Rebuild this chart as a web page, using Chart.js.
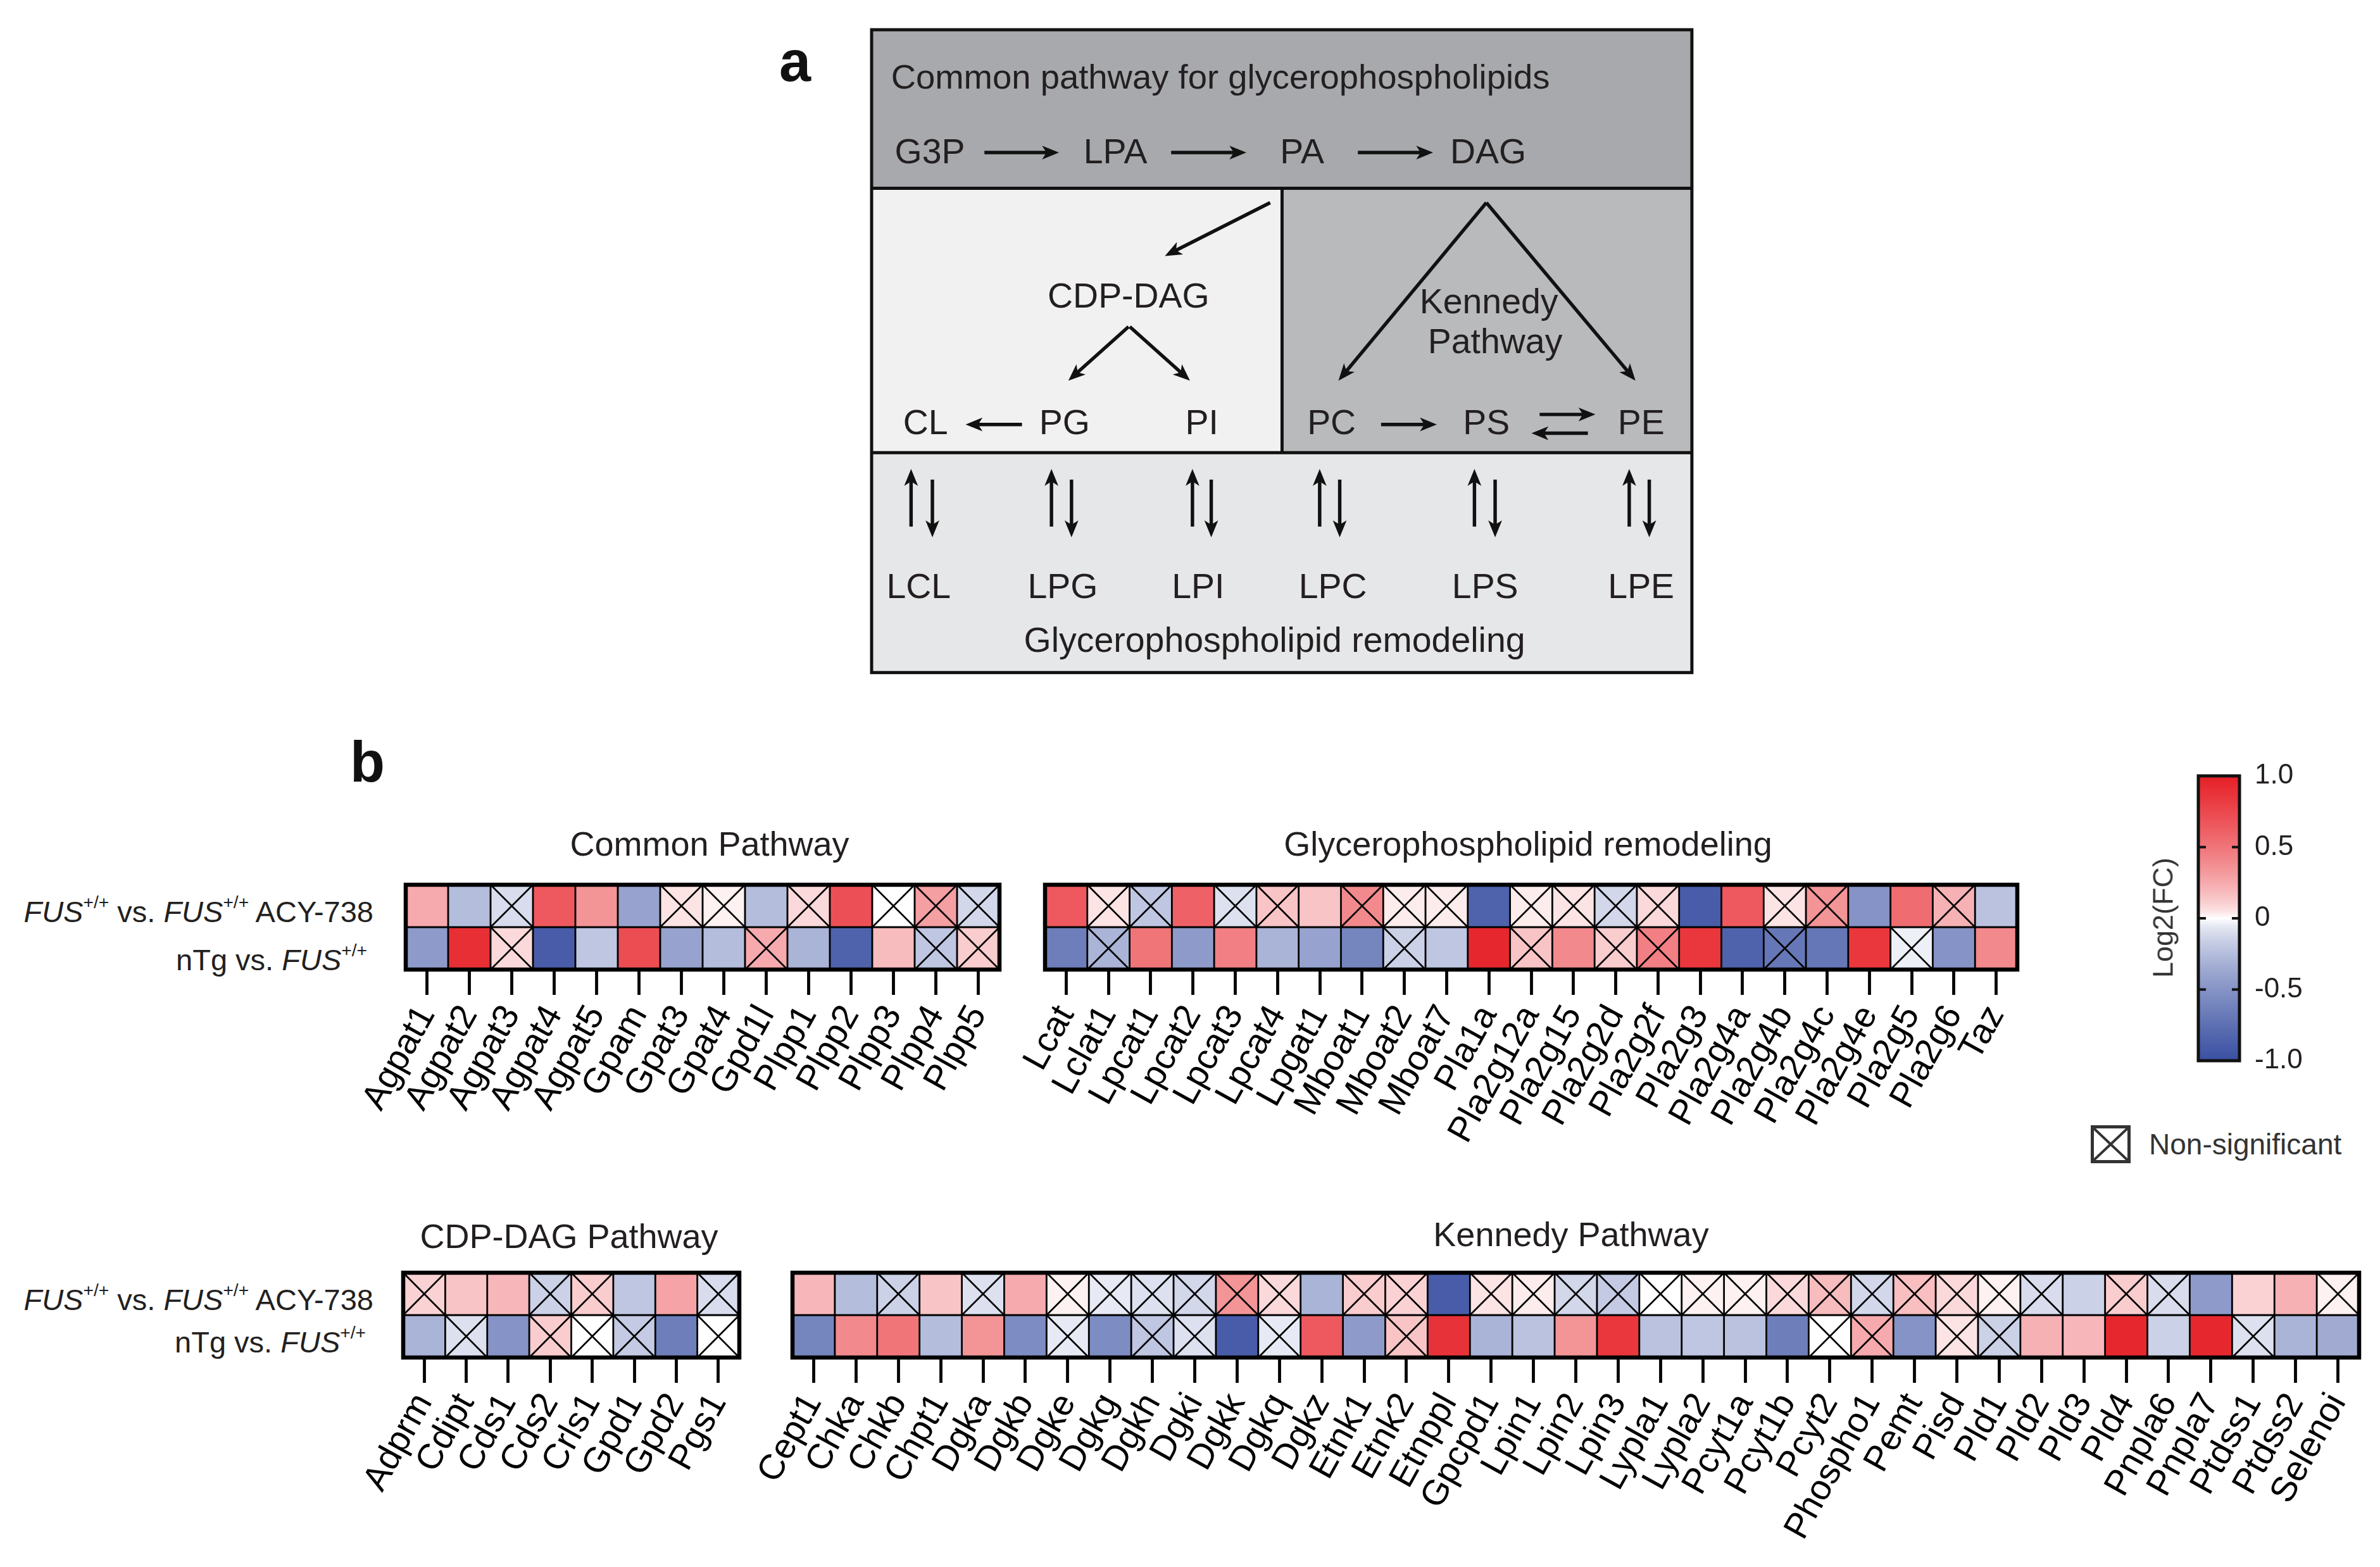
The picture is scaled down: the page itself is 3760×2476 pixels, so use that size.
<!DOCTYPE html>
<html lang="en">
<head>
<meta charset="UTF-8">
<title>Glycerophospholipid pathways</title>
<script src="https://cdn.jsdelivr.net/npm/chart.js"></script>
<style>
    body {
        margin: 0;
        width: 3760px;
        height: 2476px;
        background: #fff;
        font-family: "Liberation Sans", Arial, sans-serif;
        color: #231f20;
        position: relative;
        overflow: hidden;
    }
    canvas { position: absolute; }
    #diagram { position: absolute; left: 0; top: 0; }
    .title {
        position: absolute;
        font-size: 54px;
        line-height: 1;
        white-space: nowrap;
        transform: translate(-50%, -50%);
    }
    .rowlab {
        position: absolute;
        font-size: 47px;
        line-height: 1;
        white-space: nowrap;
        transform: translate(-100%, -50%);
    }
    .rowlab sup { font-size: 0.6em; vertical-align: 0.75em; line-height: 0; }
    .panel {
        position: absolute;
        font-size: 90px;
        line-height: 90px;
        font-weight: bold;
        color: #111;
    }
    .legend-box {
        position: absolute;
        left: 3303px; top: 1778px;
        width: 63px; height: 60px;
        box-sizing: border-box;
        border: 5px solid #333;
    }
    .legend-text {
        position: absolute;
        left: 3395px; top: 1808px;
        font-size: 46px; line-height: 1;
        transform: translateY(-50%);
        color: #333;
    }
    .cb-title {
        position: absolute;
        left: 3417px; top: 1450px;
        font-size: 45px; line-height: 1;
        white-space: nowrap;
        color: #333;
        transform: translate(-50%, -50%) rotate(-90deg);
    }
</style>
</head>
<body>
    <svg id="diagram" width="3760" height="1100"><g id="schema" transform="translate(1377,47) scale(0.99) translate(-1377,-47)"></g></svg>

    <div class="panel" style="left:1231px; top:52px;">a</div>
    <div class="panel" style="left:553px; top:1159px;">b</div>

    <div class="title" style="left:1121px; top:1333px;">Common Pathway</div>
    <div class="title" style="left:2414px; top:1333px;">Glycerophospholipid remodeling</div>
    <div class="title" style="left:899px; top:1953px;">CDP-DAG Pathway</div>
    <div class="title" style="left:2482px; top:1950px;">Kennedy Pathway</div>

    <div class="rowlab" style="left:590px; top:1440px;"><i>FUS</i><sup>+/+</sup> vs. <i>FUS</i><sup>+/+</sup> ACY-738</div>
    <div class="rowlab" style="left:580px; top:1516px;">nTg vs. <i>FUS</i><sup>+/+</sup></div>
    <div class="rowlab" style="left:590px; top:2053px;"><i>FUS</i><sup>+/+</sup> vs. <i>FUS</i><sup>+/+</sup> ACY-738</div>
    <div class="rowlab" style="left:578px; top:2120px;">nTg vs. <i>FUS</i><sup>+/+</sup></div>

    <canvas id="common"></canvas>
    <canvas id="remodel"></canvas>
    <canvas id="cdp"></canvas>
    <canvas id="kennedy"></canvas>
    <canvas id="colorbar"></canvas>

    <div class="cb-title">Log2(FC)</div>
    <div class="legend-box">
        <svg width="53" height="50" style="display:block">
            <line x1="0" y1="0" x2="53" y2="50" stroke="#333" stroke-width="4"/>
            <line x1="53" y1="0" x2="0" y2="50" stroke="#333" stroke-width="4"/>
        </svg>
    </div>
    <div class="legend-text">Non-significant</div>

<script>
    // Heatmap data: log2 fold change per gene, and non-significant flags (1 = crossed cell)
    const commonGenes = ['Agpat1', 'Agpat2', 'Agpat3', 'Agpat4', 'Agpat5', 'Gpam', 'Gpat3', 'Gpat4', 'Gpd1l', 'Plpp1', 'Plpp2', 'Plpp3', 'Plpp4', 'Plpp5'];
    const commonAcy = [0.25, -0.25, -0.1, 0.65, 0.35, -0.4, 0.05, 0.02, -0.25, 0.08, 0.7, 0.0, 0.3, -0.12];
    const commonAcyNs = [0, 0, 1, 0, 0, 0, 1, 1, 0, 1, 0, 1, 1, 1];
    const commonNtg = [-0.45, 0.9, 0.08, -0.9, -0.2, 0.72, -0.4, -0.25, 0.25, -0.3, -0.85, 0.18, -0.2, 0.12];
    const commonNtgNs = [0, 0, 1, 0, 0, 0, 0, 0, 1, 0, 0, 0, 1, 1];

    const remodelGenes = ['Lcat', 'Lclat1', 'Lpcat1', 'Lpcat2', 'Lpcat3', 'Lpcat4', 'Lpgat1', 'Mboat1', 'Mboat2', 'Mboat7', 'Pla1a', 'Pla2g12a', 'Pla2g15', 'Pla2g2d', 'Pla2g2f', 'Pla2g3', 'Pla2g4a', 'Pla2g4b', 'Pla2g4c', 'Pla2g4e', 'Pla2g5', 'Pla2g6', 'Taz'];
    const remodelAcy = [0.65, 0.05, -0.2, 0.6, -0.08, 0.15, 0.15, 0.4, 0.03, 0.03, -0.85, 0.03, 0.05, -0.12, 0.08, -0.9, 0.65, 0.05, 0.35, -0.5, 0.55, 0.22, -0.22];
    const remodelAcyNs = [0, 1, 1, 0, 1, 1, 0, 1, 1, 1, 0, 1, 1, 1, 1, 0, 0, 1, 1, 0, 0, 1, 0];
    const remodelNtg = [-0.65, -0.3, 0.5, -0.45, 0.45, -0.3, -0.4, -0.6, -0.15, -0.2, 0.95, 0.15, 0.4, 0.12, 0.45, 0.85, -0.85, -0.7, -0.7, 0.85, -0.03, -0.5, 0.4];
    const remodelNtgNs = [0, 1, 0, 0, 0, 0, 0, 0, 1, 0, 0, 1, 0, 1, 1, 0, 0, 1, 0, 0, 1, 0, 0];

    const cdpGenes = ['Adprm', 'Cdipt', 'Cds1', 'Cds2', 'Crls1', 'Gpd1', 'Gpd2', 'Pgs1'];
    const cdpAcy = [0.1, 0.15, 0.2, -0.15, 0.12, -0.2, 0.28, -0.1];
    const cdpAcyNs = [1, 0, 0, 1, 1, 0, 0, 1];
    const cdpNtg = [-0.3, -0.08, -0.5, 0.12, 0.0, -0.18, -0.65, 0.0];
    const cdpNtgNs = [0, 1, 0, 1, 1, 1, 0, 1];

    const kennedyGenes = ['Cept1', 'Chka', 'Chkb', 'Chpt1', 'Dgka', 'Dgkb', 'Dgke', 'Dgkg', 'Dgkh', 'Dgki', 'Dgkk', 'Dgkq', 'Dgkz', 'Etnk1', 'Etnk2', 'Etnppl', 'Gpcpd1', 'Lpin1', 'Lpin2', 'Lpin3', 'Lypla1', 'Lypla2', 'Pcyt1a', 'Pcyt1b', 'Pcyt2', 'Phospho1', 'Pemt', 'Pisd', 'Pld1', 'Pld2', 'Pld3', 'Pld4', 'Pnpla6', 'Pnpla7', 'Ptdss1', 'Ptdss2', 'Selenoi'];
    const kennedyAcy = [0.2, -0.25, -0.15, 0.15, -0.08, 0.25, 0.02, -0.05, -0.08, -0.12, 0.35, 0.08, -0.3, 0.12, 0.1, -0.9, 0.05, 0.03, -0.12, -0.18, 0.0, 0.02, 0.02, 0.08, 0.18, -0.12, 0.17, 0.08, 0.02, -0.1, -0.15, 0.12, -0.1, -0.45, 0.1, 0.22, 0.02];
    const kennedyAcyNs = [0, 0, 1, 0, 1, 0, 1, 1, 1, 1, 1, 1, 0, 1, 1, 0, 1, 1, 1, 1, 1, 1, 1, 1, 1, 1, 1, 1, 1, 1, 0, 1, 1, 0, 0, 0, 1];
    const kennedyNtg = [-0.6, 0.4, 0.5, -0.25, 0.35, -0.55, -0.05, -0.55, -0.2, -0.08, -0.9, -0.05, 0.65, -0.45, 0.15, 0.88, -0.3, -0.22, 0.35, 0.85, -0.22, -0.2, -0.22, -0.65, 0.0, 0.25, -0.5, 0.05, -0.15, 0.22, 0.2, 0.95, -0.15, 0.95, -0.08, -0.3, -0.35];
    const kennedyNtgNs = [0, 0, 0, 0, 0, 0, 1, 0, 1, 1, 0, 1, 0, 0, 1, 0, 0, 0, 0, 0, 0, 0, 0, 0, 1, 1, 0, 1, 1, 0, 0, 0, 0, 0, 1, 0, 0];

    const colorbarTicks = [-1, -0.5, 0, 0.5, 1];

    // Colour scale: blue (-1) -> white (0) -> red (+1)
    const RED = [230, 31, 38], BLUE = [58, 80, 162], WHITE = [255, 255, 255];
    function valueToColor(v) {
        const t = Math.pow(Math.min(1, Math.abs(v)), 0.7);
        const end = v >= 0 ? RED : BLUE;
        const c = WHITE.map((w, k) => Math.round(w + (end[k] - w) * t));
        return 'rgb(' + c.join(',') + ')';
    }

    Chart.defaults.font.family = '"Liberation Sans", Arial, sans-serif';
    Chart.defaults.color = '#000';

    // Crosses for non-significant cells and the heavy outer frame
    const cellMarks = {
        id: 'cellMarks',
        afterDatasetsDraw(chart) {
            const ctx = chart.ctx;
            ctx.save();
            ctx.strokeStyle = '#000';
            ctx.lineWidth = 2.6;
            chart.data.datasets.forEach((ds, di) => {
                chart.getDatasetMeta(di).data.forEach((bar, i) => {
                    if (!ds.ns[i]) return;
                    const x0 = bar.x - bar.width / 2, x1 = bar.x + bar.width / 2;
                    const y0 = Math.min(bar.y, bar.base), y1 = Math.max(bar.y, bar.base);
                    ctx.beginPath();
                    ctx.moveTo(x0, y0); ctx.lineTo(x1, y1);
                    ctx.moveTo(x1, y0); ctx.lineTo(x0, y1);
                    ctx.stroke();
                });
            });
            const a = chart.chartArea;
            ctx.lineWidth = 6.5;
            ctx.strokeRect(a.left, a.top, a.right - a.left, a.bottom - a.top);
            ctx.restore();
        }
    };

    function drawHeatmap(id, genes, acy, acyNs, ntg, ntgNs, left, top, cw) {
        const rh = 67, padL = 230, padR = 40, padT = 12, axisH = 330;
        const cv = document.getElementById(id);
        cv.width = padL + Math.round(genes.length * cw) + padR;
        cv.height = padT + 2 * rh + axisH;
        cv.style.left = (left - padL) + 'px';
        cv.style.top = (top - padT) + 'px';
        const cell = {
            borderColor: '#000', borderWidth: 1.75, borderSkipped: false,
            grouped: false, barPercentage: 1, categoryPercentage: 1
        };
        return new Chart(cv, {
            type: 'bar',
            data: {
                labels: genes,
                datasets: [
                    Object.assign({ label: 'FUS+/+ vs. FUS+/+ ACY-738', data: acy.map(() => [1, 2]), ns: acyNs, backgroundColor: acy.map(valueToColor) }, cell),
                    Object.assign({ label: 'nTg vs. FUS+/+', data: ntg.map(() => [0, 1]), ns: ntgNs, backgroundColor: ntg.map(valueToColor) }, cell)
                ]
            },
            options: {
                responsive: false,
                animation: false,
                layout: { autoPadding: false, padding: { left: padL, right: padR, top: padT, bottom: 0 } },
                plugins: { legend: { display: false }, tooltip: { enabled: false } },
                scales: {
                    x: {
                        afterFit: s => { s.height = axisH; },
                        ticks: { minRotation: 61, maxRotation: 61, autoSkip: false, padding: 6, font: { size: 56 }, color: '#000' },
                        grid: { offset: false, drawOnChartArea: false, drawTicks: true, tickLength: 40, tickWidth: 4.8, tickColor: '#000' },
                        border: { display: false }
                    },
                    y: { display: false, min: 0, max: 2 }
                }
            },
            plugins: [cellMarks]
        });
    }

    drawHeatmap('common', commonGenes, commonAcy, commonAcyNs, commonNtg, commonNtgNs, 641, 1398, 67);
    drawHeatmap('remodel', remodelGenes, remodelAcy, remodelAcyNs, remodelNtg, remodelNtgNs, 1651, 1398, 66.8);
    drawHeatmap('cdp', cdpGenes, cdpAcy, cdpAcyNs, cdpNtg, cdpNtgNs, 637, 2011, 66.4);
    drawHeatmap('kennedy', kennedyGenes, kennedyAcy, kennedyAcyNs, kennedyNtg, kennedyNtgNs, 1252, 2011, 66.9);

    // Colour bar
    const cbFrame = {
        id: 'cbFrame',
        afterDatasetsDraw(chart) {
            const ctx = chart.ctx, a = chart.chartArea, y = chart.scales.y;
            ctx.save();
            ctx.strokeStyle = '#111';
            ctx.lineWidth = 4;
            colorbarTicks.slice(1, -1).forEach(v => {
                const py = y.getPixelForValue(v);
                ctx.beginPath();
                ctx.moveTo(a.left, py); ctx.lineTo(a.left + 12, py);
                ctx.moveTo(a.right, py); ctx.lineTo(a.right - 12, py);
                ctx.stroke();
            });
            ctx.lineWidth = 5;
            ctx.strokeRect(a.left, a.top, a.right - a.left, a.bottom - a.top);
            ctx.restore();
        }
    };
    const cbPad = 70;
    const cb = document.getElementById('colorbar');
    cb.width = cbPad + 65 + 200; cb.height = 2 * cbPad + 450;
    cb.style.left = (3473 - cbPad) + 'px'; cb.style.top = (1226 - cbPad) + 'px';
    new Chart(cb, {
        type: 'bar',
        data: {
            labels: ['Log2(FC)'],
            datasets: [{
                data: [[colorbarTicks[0], colorbarTicks[colorbarTicks.length - 1]]],
                backgroundColor(context) {
                    const { ctx, chartArea } = context.chart;
                    if (!chartArea) return null;
                    const g = ctx.createLinearGradient(0, chartArea.bottom, 0, chartArea.top);
                    for (let k = 0; k <= 40; k++) {
                        g.addColorStop(k / 40, valueToColor(-1 + k / 20));
                    }
                    return g;
                },
                borderWidth: 0, barPercentage: 1, categoryPercentage: 1
            }]
        },
        options: {
            responsive: false,
            animation: false,
            layout: { autoPadding: false, padding: { left: cbPad, right: 0, top: cbPad, bottom: cbPad } },
            plugins: { legend: { display: false }, tooltip: { enabled: false } },
            scales: {
                x: { display: false },
                y: {
                    position: 'right', min: -1, max: 1,
                    afterBuildTicks: s => { s.ticks = colorbarTicks.map(v => ({ value: v })); },
                    afterFit: s => { s.width = 200; },
                    ticks: { padding: 24, font: { size: 44 }, color: '#231f20', callback: v => v === 0 ? '0' : v.toFixed(1) },
                    grid: { display: false, drawTicks: false },
                    border: { display: false }
                }
            }
        },
        plugins: [cbFrame]
    });

    // Panel a: pathway schematic
    const schema = document.getElementById('schema');
    const NS = 'http://www.w3.org/2000/svg';
    function el(tag, attrs, text) {
        const e = document.createElementNS(NS, tag);
        for (const k in attrs) e.setAttribute(k, attrs[k]);
        if (text) e.textContent = text;
        schema.appendChild(e);
        return e;
    }
    function label(x, y, text, anchor, size) {
        el('text', { x: x, y: y, 'text-anchor': anchor || 'middle', 'font-size': size || 56, fill: '#231f20',
            'font-family': 'Liberation Sans, Arial, sans-serif' }, text);
    }
    function arrow(x1, y1, x2, y2) {
        const dx = x2 - x1, dy = y2 - y1, len = Math.hypot(dx, dy);
        const ux = dx / len, uy = dy / len, hl = 27, hw = 11;
        el('line', { x1: x1, y1: y1, x2: x2 - ux * 16, y2: y2 - uy * 16, stroke: '#111', 'stroke-width': 5.5 });
        const bx = x2 - ux * hl, by = y2 - uy * hl;
        const nx = x2 - ux * (hl - 7), ny = y2 - uy * (hl - 7);
        el('polygon', { fill: '#111', points: x2 + ',' + y2 + ' ' + (bx - uy * hw) + ',' + (by + ux * hw) + ' ' +
            nx + ',' + ny + ' ' + (bx + uy * hw) + ',' + (by - ux * hw) });
    }

    el('rect', { x: 1377, y: 47, width: 1309, height: 253, fill: '#a7a9ac' });
    el('rect', { x: 1377, y: 300, width: 655, height: 422, fill: '#f1f1f2' });
    el('rect', { x: 2032, y: 300, width: 654, height: 422, fill: '#b9babc' });
    el('rect', { x: 1377, y: 722, width: 1309, height: 351, fill: '#e6e7e8' });
    el('line', { x1: 1377, y1: 300, x2: 2686, y2: 300, stroke: '#111', 'stroke-width': 5 });
    el('line', { x1: 1377, y1: 722, x2: 2686, y2: 722, stroke: '#111', 'stroke-width': 5 });
    el('line', { x1: 2032, y1: 300, x2: 2032, y2: 722, stroke: '#111', 'stroke-width': 5 });
    el('rect', { x: 1377, y: 47, width: 1309, height: 1026, fill: 'none', stroke: '#111', 'stroke-width': 5 });

    label(1408, 141, 'Common pathway for glycerophospholipids', 'start', 55);
    label(1470, 260, 'G3P'); label(1766, 260, 'LPA'); label(2064, 260, 'PA'); label(2361, 260, 'DAG');
    arrow(1557, 243, 1676, 243); arrow(1855, 243, 1975, 243); arrow(2153, 243, 2273, 243);

    arrow(2013, 323, 1845, 408);
    label(1787, 490, 'CDP-DAG');
    arrow(1787, 521, 1691, 607); arrow(1789, 521, 1885, 607);
    label(1463, 692, 'CL'); label(1685, 692, 'PG'); label(1904, 692, 'PI');
    arrow(1617, 677, 1527, 677);

    arrow(2358, 323, 2122, 607); arrow(2358, 323, 2596, 607);
    label(2362, 500, 'Kennedy'); label(2372, 563, 'Pathway');
    label(2111, 692, 'PC'); label(2358, 692, 'PS'); label(2605, 692, 'PE');
    arrow(2190, 677, 2279, 677);
    arrow(2443, 661, 2532, 661); arrow(2520, 691, 2430, 691);

    const pairs = [[1440, 1474], [1664, 1696], [1889, 1919], [2092, 2124], [2339, 2372], [2586, 2618]];
    pairs.forEach(p => { arrow(p[0], 840, p[0], 748); arrow(p[1], 765, p[1], 857); });
    label(1452, 954, 'LCL'); label(1682, 954, 'LPG'); label(1898, 954, 'LPI');
    label(2113, 954, 'LPC'); label(2356, 954, 'LPS'); label(2605, 954, 'LPE');
    label(2020, 1040, 'Glycerophospholipid remodeling');
</script>
</body>
</html>
